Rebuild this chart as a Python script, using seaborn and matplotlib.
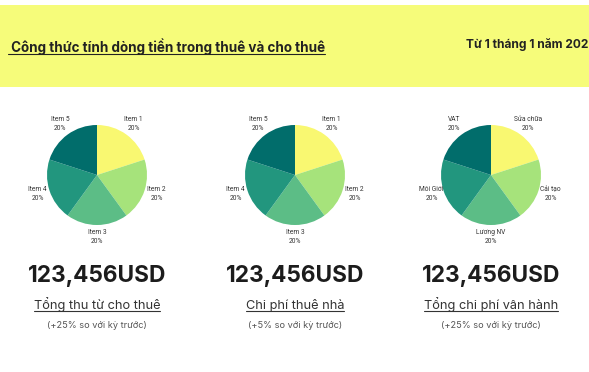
import matplotlib
matplotlib.use("Agg")
import matplotlib.pyplot as plt
import matplotlib.patches as mpatches
from matplotlib.lines import Line2D
import seaborn as sns

sns.set_theme(style="white")
plt.rcParams['font.family'] = ['Inter', 'DejaVu Sans']

# data
title = " Công thức tính dòng tiền trong thuê và cho thuê"
date_text = "Từ 1 tháng 1 năm 202"   # the reference shows it cut at the right edge
items_rent = ["Item 1", "Item 2", "Item 3", "Item 4", "Item 5"]
items_lease = ["Item 1", "Item 2", "Item 3", "Item 4", "Item 5"]
items_ops = ["Sửa chữa", "Cải tạo", "Lương NV", "Môi Giới", "VAT"]
values_rent = [20, 20, 20, 20, 20]
values_lease = [20, 20, 20, 20, 20]
values_ops = [20, 20, 20, 20, 20]
totals = ["123,456USD", "123,456USD", "123,456USD"]
captions = ["Tổng thu từ cho thuê", "Chi phí thuê nhà", "Tổng chi phí vận hành"]
changes = ["(+25% so với kỳ trước)", "(+5% so với kỳ trước)", "(+25% so với kỳ trước)"]

palette = ["#F9F871", "#A6E37B", "#5CBD86", "#22967E", "#016D6B"]
BANNER = "#F6FC7A"

W, H = 589, 372
fig = plt.figure(figsize=(W / 100, H / 100), dpi=100)
fig.patch.set_facecolor("white")


def fx(x):
    return x / W


def fy(y):
    return 1 - y / H


# yellow banner
fig.add_artist(mpatches.Rectangle((0, fy(87)), 1, 82 / H, transform=fig.transFigure,
                                  facecolor=BANNER, edgecolor="none", zorder=0))

underlined = []
t = fig.text(fx(8), fy(52), title, fontsize=9.7, fontweight="bold", color="#222222",
             ha="left", va="baseline")
underlined.append(t)
fig.text(fx(588), fy(45), date_text, fontsize=8.6, fontweight="bold", color="#222222",
         ha="right", va="center")

centers = [97, 295, 491]
groups = [(items_rent, values_rent), (items_lease, values_lease), (items_ops, values_ops)]
R = 50
half = 70
for cx, (names, vals), tot, cap, chg in zip(centers, groups, totals, captions, changes):
    ax = fig.add_axes([fx(cx - half), fy(175 + half), 2 * half / W, 2 * half / H])
    total = sum(vals)
    labels = [f"{n}\n{v / total * 100:.0f}%" for n, v in zip(names, vals)]
    ax.pie(vals, labels=labels, colors=palette, startangle=90, counterclock=False,
           labeldistance=1.25, radius=1,
           wedgeprops=dict(linewidth=0),
           textprops=dict(fontsize=4.8, color="#333333", ha="center", va="center",
                          family=["Roboto", "DejaVu Sans"], linespacing=1.4))
    ax.set_xlim(-half / R, half / R)
    ax.set_ylim(-half / R, half / R)
    ax.set_aspect("equal")
    ax.axis("off")

    fig.text(fx(cx), fy(276), tot, fontsize=16.3, fontweight="bold", color="#1c1c1c",
             ha="center", va="center")
    c = fig.text(fx(cx), fy(309), cap, fontsize=9.2, color="#333333",
                 ha="center", va="baseline")
    underlined.append(c)
    fig.text(fx(cx), fy(326), chg, fontsize=6.6, color="#555555",
             ha="center", va="center")

# underline texts just below the baseline
fig.canvas.draw()
renderer = fig.canvas.get_renderer()
for txt in underlined:
    bb = txt.get_window_extent(renderer)
    bf = bb.transformed(fig.transFigure.inverted())
    y = txt.get_position()[1] - 2.0 / H
    fig.add_artist(Line2D([bf.x0, bf.x1], [y, y], transform=fig.transFigure,
                          color=txt.get_color(), linewidth=0.8))

fig.savefig("out.png", dpi=100)
